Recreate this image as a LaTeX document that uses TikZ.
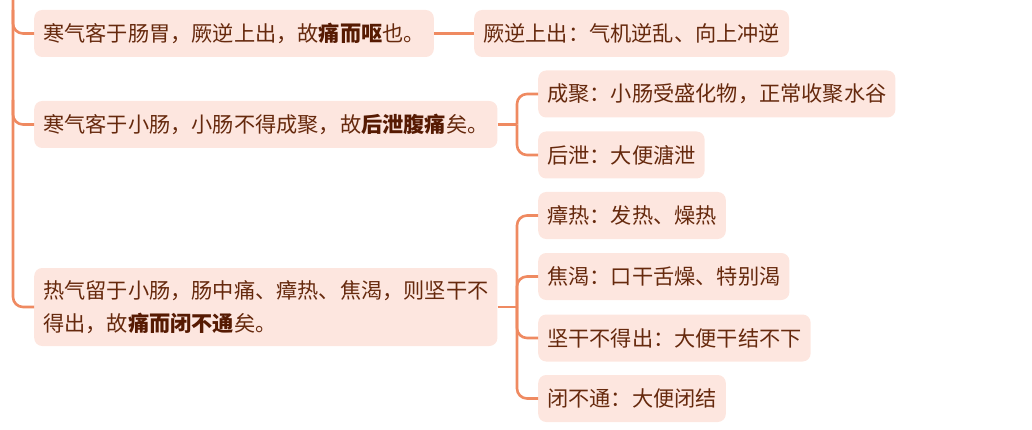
\documentclass[tikz,border=0pt]{standalone}
\usepackage{fontspec}
\newfontfamily\cjk{Noto Sans CJK SC}
\definecolor{linec}{HTML}{EF8A61}
\definecolor{boxf}{HTML}{FDE6DF}
\definecolor{txt}{HTML}{66290D}
\definecolor{btxt}{HTML}{561A02}
\newcommand{\hb}[1]{{\bfseries\color{btxt}#1}}
\begin{document}
\begin{tikzpicture}[x=1pt,y=-1pt,
  box/.style={fill=boxf, rounded corners=8pt, anchor=west, inner xsep=9pt, inner ysep=0pt,
    minimum height=47pt, text=txt, font=\cjk\fontsize{21.2}{33}\selectfont, align=left},
  conn/.style={draw=linec, line width=2.6pt, rounded corners=10pt}]
\useasboundingbox (0,0) rectangle (1032,430);
% nodes
\node[box] (a) at (34,33.5) {寒气客于肠胃，厥逆上出，故\hb{痛而呕}也。};
\node[box] (a1) at (474,33.5) {厥逆上出：气机逆乱、向上冲逆};
\node[box] (b) at (34,124.5) {寒气客于小肠，小肠不得成聚，故\hb{后泄腹痛}矣。};
\node[box] (b1) at (538,94) {成聚：小肠受盛化物，正常收聚水谷};
\node[box] (b2) at (538,155) {后泄：大便溏泄};
\node[box, minimum height=78pt] (c) at (34,307) {热气留于小肠，肠中痛、瘴热、焦渴，则坚干不\\得出，故\hb{痛而闭不通}矣。};
\node[box] (c1) at (538,215.5) {瘴热：发热、燥热};
\node[box] (c2) at (538,276.5) {焦渴：口干舌燥、特别渴};
\node[box] (c3) at (538,338) {坚干不得出：大便干结不下};
\node[box] (c4) at (538,398.5) {闭不通：大便闭结};
% coordinates
\coordinate (top) at (13,-2);
\coordinate (ta) at (13,10);
\coordinate (tb) at (13,100);
\coordinate (bj) at (517,124.5);
\coordinate (cj) at (517,307);
% connectors
\draw[conn] (top) |- (c.west);
\draw[conn] (ta) |- (a.west);
\draw[conn] (tb) |- (b.west);
\draw[conn] (a.east) -- (a1.west);
\draw[conn] (b.east) -- (bj);
\draw[conn] (bj) |- (b1.west);
\draw[conn] (bj) |- (b2.west);
\draw[conn] (c.east) -- (cj);
\draw[conn] (cj) |- (c1.west);
\draw[conn] (cj) |- (c2.west);
\draw[conn] (cj) |- (c3.west);
\draw[conn] (cj) |- (c4.west);
\end{tikzpicture}
\end{document}
